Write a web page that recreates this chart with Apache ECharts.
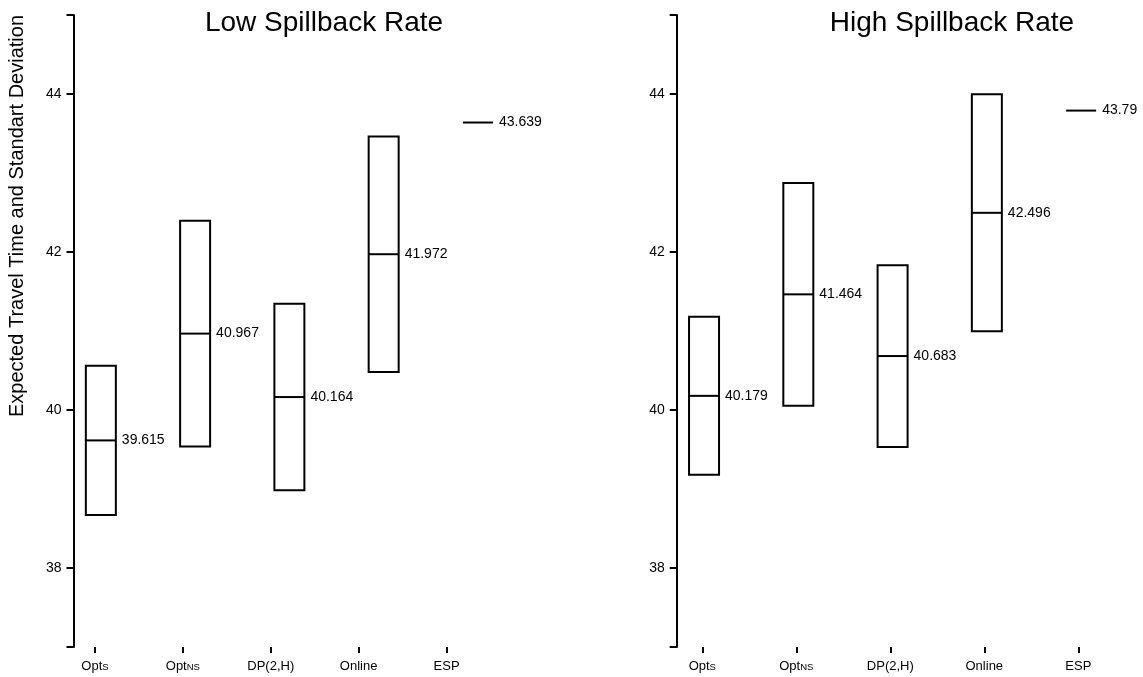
<!DOCTYPE html>
<html>
<head>
<meta charset="utf-8">
<script src="https://cdn.jsdelivr.net/npm/echarts@6.0.0/dist/echarts.min.js"></script>
<style>
  html, body { margin: 0; padding: 0; background: #fff; }
  #chart { width: 1143px; height: 677px; }
</style>
</head>
<body>
<div id="chart"></div>
<script>
// categories (rich text: small caps part in {s|..})
var categories = ['Opts', 'OptNS', 'DP(2,H)', 'Online', 'ESP'];
var catLabels = ['{n|Opt}{s|S}', '{n|Opt}{s|NS}', '{n|DP(2,H)}', '{n|Online}', '{n|ESP}'];

// low spillback rate: mean and standard deviation
var lowMean = [39.615, 40.967, 40.164, 41.972, 43.639];
var lowSd = [0.945, 1.43, 1.18, 1.49, 0];

// high spillback rate
var highMean = [40.179, 41.464, 40.683, 42.496, 43.79];
var highSd = [1.0, 1.41, 1.15, 1.5, 0];

var yTicks = [37, 38, 40, 42, 44, 45];
var yLabels = [38, 40, 42, 44];

var FONT = 'Liberation Sans, Arial, sans-serif';

function buildData(mean, sd) {
    return mean.map(function (m, i) { return [i, m, sd[i]]; });
}

function renderBox(params, api) {
    var idx = api.value(0), m = api.value(1), s = api.value(2);
    var mid = api.coord([idx, m]);
    var top = api.coord([idx, m + s]);
    var bot = api.coord([idx, m - s]);
    var hw = 15;
    var children = [];
    if (s > 0) {
        children.push({
            type: 'rect',
            shape: { x: mid[0] - hw, y: top[1], width: hw * 2, height: bot[1] - top[1] },
            style: { fill: 'none', stroke: '#000', lineWidth: 2 }
        });
    }
    children.push({
        type: 'line',
        shape: { x1: mid[0] - hw, y1: mid[1], x2: mid[0] + hw, y2: mid[1] },
        style: { stroke: '#000', lineWidth: 2 }
    });
    children.push({
        type: 'text',
        style: {
            text: String(m), x: mid[0] + hw + 6, y: mid[1],
            align: 'left', verticalAlign: 'middle',
            fill: '#000', fontSize: 14, fontFamily: FONT
        }
    });
    return { type: 'group', children: children };
}

function boxGrid(left) {
    return { left: left, top: 15, width: 461, bottom: 30, containLabel: false };
}

function valueY(gridIndex, show) {
    return {
        type: 'value', gridIndex: gridIndex, min: 37, max: 45,
        show: show,
        splitLine: { show: false },
        axisLine: { show: true, onZero: false, lineStyle: { color: '#000', width: 2 } },
        axisTick: { show: true, customValues: yTicks, length: 7, lineStyle: { color: '#000', width: 2 } },
        axisLabel: { customValues: yLabels, margin: 12, color: '#000', fontSize: 14, fontFamily: FONT }
    };
}

function hiddenX(gridIndex) {
    return { type: 'value', gridIndex: gridIndex, min: -0.29, max: 4.6, show: false };
}

function labelX(gridIndex) {
    return {
        type: 'category', gridIndex: gridIndex, data: categories, boundaryGap: true,
        axisLine: { show: false, onZero: false },
        axisTick: { show: true, alignWithLabel: true, interval: 0, length: 6, lineStyle: { color: '#000', width: 2 } },
        axisLabel: {
            margin: 13, color: '#000', interval: 0,
            formatter: function (v, i) { return catLabels[i]; },
            rich: {
                n: { fontSize: 13, fontFamily: FONT, color: '#000', verticalAlign: 'bottom' },
                s: { fontSize: 9.5, fontFamily: FONT, color: '#000', verticalAlign: 'bottom', padding: [0, 0, 1, 0] }
            }
        },
        splitLine: { show: false }
    };
}

var chart = echarts.init(document.getElementById('chart'), null, { renderer: 'canvas' });

var option = {
    animation: false,
    backgroundColor: '#fff',
    title: [
        { text: 'Low Spillback Rate', left: 319, top: 4, textAlign: 'center',
          textStyle: { fontSize: 28, fontWeight: 'normal', color: '#000', fontFamily: FONT } },
        { text: 'High Spillback Rate', left: 947, top: 4, textAlign: 'center',
          textStyle: { fontSize: 28, fontWeight: 'normal', color: '#000', fontFamily: FONT } }
    ],
    graphic: [{
        type: 'text', x: 17, y: 216, rotation: Math.PI / 2,
        style: {
            text: 'Expected Travel Time and Standart Deviation',
            align: 'center', verticalAlign: 'middle',
            fill: '#000', fontSize: 20, fontFamily: FONT
        }
    }],
    grid: [
        boxGrid(73.5),
        { left: 51, top: 15, width: 439.5, bottom: 30 },
        boxGrid(676.7),
        { left: 655.3, top: 15, width: 470, bottom: 30 }
    ],
    xAxis: [hiddenX(0), labelX(1), hiddenX(2), labelX(3)],
    yAxis: [valueY(0, true), valueY(1, false), valueY(2, true), valueY(3, false)],
    series: [
        { type: 'custom', xAxisIndex: 0, yAxisIndex: 0, renderItem: renderBox, data: buildData(lowMean, lowSd), clip: false },
        { type: 'custom', xAxisIndex: 2, yAxisIndex: 2, renderItem: renderBox, data: buildData(highMean, highSd), clip: false }
    ]
};

chart.setOption(option);
</script>
</body>
</html>
